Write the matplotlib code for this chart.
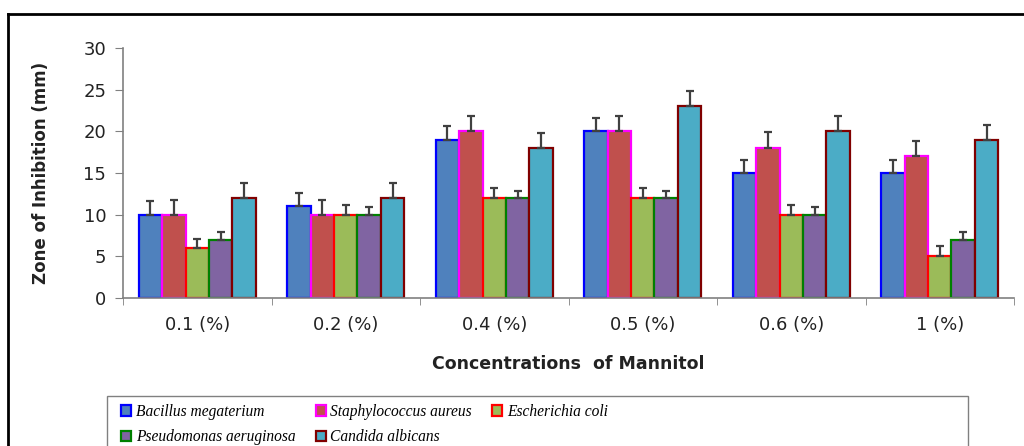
import numpy as np
import matplotlib.pyplot as plt
from matplotlib.patches import Patch, Rectangle
from matplotlib.lines import Line2D

# Datos
concentraciones = ['0.1 (%)', '0.2 (%)', '0.4 (%)', '0.5 (%)', '0.6 (%)', '1 (%)']
especies = ['Bacillus megaterium', 'Staphylococcus aureus', 'Escherichia coli',
            'Pseudomonas aeruginosa', 'Candida albicans']

bacillus = [10, 11, 19, 20, 15, 15]
staphylo = [10, 10, 20, 20, 18, 17]
ecoli = [6, 10, 12, 12, 10, 5]
pseudo = [7, 10, 12, 12, 10, 7]
candida = [12, 12, 18, 23, 20, 19]

err_bacillus = [1.6, 1.6, 1.6, 1.6, 1.6, 1.6]
err_staphylo = [1.8, 1.8, 1.8, 1.8, 1.9, 1.9]
err_ecoli = [1.1, 1.2, 1.2, 1.2, 1.2, 1.2]
err_pseudo = [0.9, 0.9, 0.9, 0.9, 0.9, 0.9]
err_candida = [1.8, 1.8, 1.8, 1.8, 1.8, 1.8]

valores = [bacillus, staphylo, ecoli, pseudo, candida]
errores = [err_bacillus, err_staphylo, err_ecoli, err_pseudo, err_candida]

relleno = ['#4F81BD', '#C0504D', '#9BBB59', '#8064A2', '#4BACC6']
borde = ['#0000FF', '#FF00FF', '#FF0000', '#008000', '#800000']

fig = plt.figure(figsize=(10.24, 4.46), dpi=100)
ax = fig.add_axes([123 / 1024, 1 - 298 / 446, 891 / 1024, 250 / 446])

x = np.arange(len(concentraciones))
ancho = 0.158
for i in range(5):
    pos = x + (i - 2) * ancho
    ax.bar(pos, valores[i], ancho, color=relleno[i], edgecolor=borde[i],
           linewidth=1.6, zorder=2)
    ax.errorbar(pos, valores[i], yerr=[np.zeros(6), errores[i]], fmt='none',
                ecolor='#404040', elinewidth=1.6, capsize=3, capthick=1.6, zorder=3)

ax.set_xlim(-0.5, 5.5)
ax.set_ylim(0, 30)
ax.set_yticks(np.arange(0, 31, 5))
ax.set_xticks(x)
ax.set_xticklabels(concentraciones)
ax.set_xticks(np.arange(-0.5, 6, 1), minor=True)
ax.tick_params(axis='x', which='major', length=0, pad=13, labelsize=13, labelcolor='#222222')
ax.tick_params(axis='x', which='minor', length=5, color='#808080', direction='out')
ax.tick_params(axis='y', length=6, color='#808080', labelsize=13, labelcolor='#222222', pad=6)

for s in ['top', 'right']:
    ax.spines[s].set_visible(False)
for s in ['left', 'bottom']:
    ax.spines[s].set_color('#808080')
    ax.spines[s].set_linewidth(1.2)

ax.set_ylabel('Zone of Inhibition (mm)', fontsize=12, fontweight='bold', color='#222222')
ax.yaxis.set_label_coords(-0.082, 0.5)
ax.set_xlabel('Concentrations  of Mannitol', fontsize=12.5, fontweight='bold', color='#222222')
ax.xaxis.set_label_coords(0.5, -0.264)
ax.xaxis.label.set_va('center')

# Leyenda: orden por filas (matplotlib rellena por columnas)
orden = [0, 3, 1, 4, 2]
handles = [Patch(facecolor=relleno[i], edgecolor=borde[i], linewidth=1.6) for i in orden]
etiquetas = [especies[i] for i in orden]
fig.legend(handles, etiquetas, loc='upper left', bbox_to_anchor=(110 / 1024, 1 - 393 / 446),
           ncol=3, frameon=False, prop={'family': 'Liberation Serif', 'style': 'italic', 'size': 11.2},
           handlelength=0.65, handleheight=0.65, handletextpad=0.3, columnspacing=1.3,
           labelspacing=0.6, borderpad=0.2)

fig.add_artist(Rectangle((107 / 1024, -0.05), (968 - 107) / 1024, 1 - 396 / 446 + 0.05,
                         transform=fig.transFigure, fill=False, edgecolor='#808080', linewidth=1))

# Marco exterior
fig.add_artist(Line2D([8 / 1024, 1.01], [1 - 14 / 446, 1 - 14 / 446], transform=fig.transFigure,
                      color='black', linewidth=2))
fig.add_artist(Line2D([8 / 1024, 8 / 1024], [-0.01, 1 - 14 / 446], transform=fig.transFigure,
                      color='black', linewidth=2))

fig.savefig('out.png', dpi=100)
